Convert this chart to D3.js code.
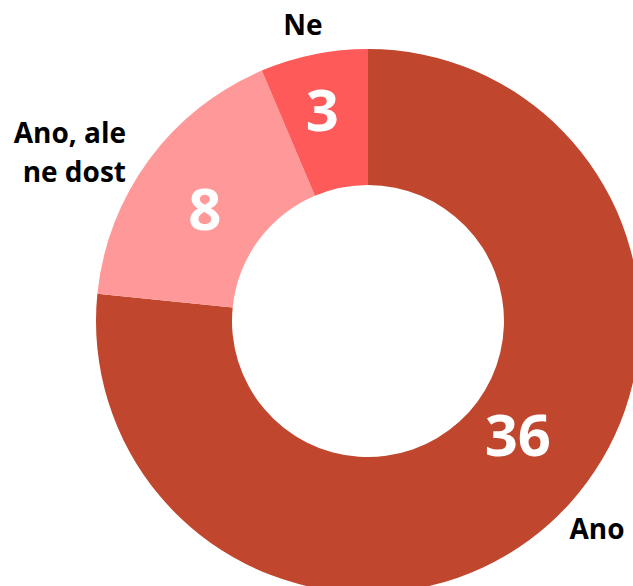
<!DOCTYPE html>
<html>
<head>
<meta charset="utf-8">
<script src="https://cdn.jsdelivr.net/npm/d3@7"></script>
<style>
  body { margin: 0; background: #fff; }
  svg { display: block; font-family: "Open Sans", sans-serif; }
</style>
</head>
<body>
<div id="chart"></div>
<script>
// data
var categories = ["Ano", "Ano, ale ne dost", "Ne"];
var values = [36, 8, 3];
var colors = ["#C0462E", "#FF9999", "#FF5A5A"];

// layout
var width = 633, height = 586;
var cx = 368, cy = 321;
var outerR = 272, innerR = 136;

// value label nudges from centroid (dx, dy), category label placement
var valueNudge = [[13, -39], [1, 7], [-5, -13]];
var catLabels = [
  {lines: ["Ano"], x: 597, y: 539, anchor: "middle"},
  {lines: ["Ano, ale", "ne dost"], x: 126, y: 143, anchor: "end"},
  {lines: ["Ne"], x: 303, y: 35, anchor: "middle"}
];

var svg = d3.select("#chart").append("svg")
    .attr("width", width)
    .attr("height", height);

var g = svg.append("g")
    .attr("transform", "translate(" + cx + "," + cy + ")");

var pie = d3.pie().sort(null).value(function(d) { return d; });
var arc = d3.arc().innerRadius(innerR).outerRadius(outerR);

var arcs = pie(values);

g.selectAll("path")
    .data(arcs)
    .enter().append("path")
    .attr("d", arc)
    .attr("fill", function(d, i) { return colors[i]; });

g.selectAll("text.val")
    .data(arcs)
    .enter().append("text")
    .attr("class", "val")
    .attr("x", function(d, i) { return arc.centroid(d)[0] + valueNudge[i][0]; })
    .attr("y", function(d, i) { return arc.centroid(d)[1] + valueNudge[i][1]; })
    .attr("text-anchor", "middle")
    .attr("dominant-baseline", "central")
    .attr("fill", "#fff")
    .attr("font-weight", "bold")
    .attr("font-size", 58)
    .text(function(d) { return d.data; });

catLabels.forEach(function(c, i) {
  var t = svg.append("text")
      .attr("x", c.x)
      .attr("y", c.y)
      .attr("text-anchor", c.anchor)
      .attr("font-weight", "bold")
      .attr("font-size", 28)
      .attr("fill", "#000");
  c.lines.forEach(function(line, j) {
    t.append("tspan")
        .attr("x", c.x)
        .attr("dy", j === 0 ? 0 : 39)
        .text(j === 0 && c.lines.length === 1 ? categories[i] : line);
  });
});
</script>
</body>
</html>
